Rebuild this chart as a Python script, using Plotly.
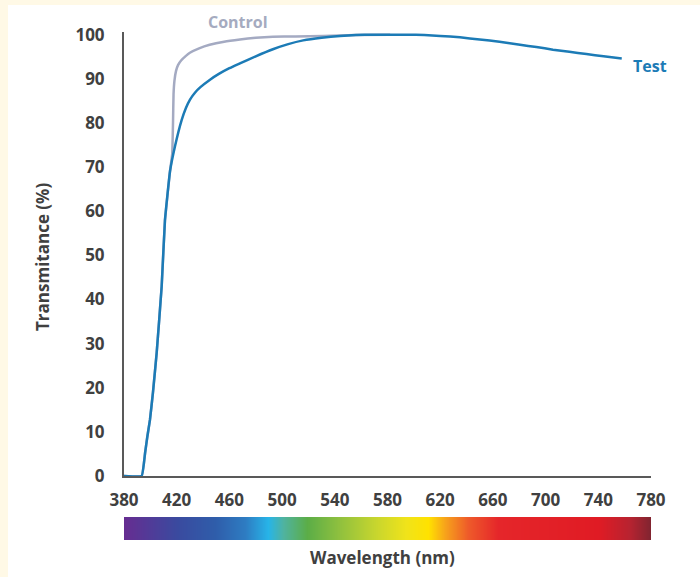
import plotly.graph_objects as go

# ---------------- data ----------------
test_nm = [380, 393.4, 396, 397.7, 399.7, 402, 404.8, 408.6, 411.1, 414.9, 418.7, 423.8,
           427, 430.1, 434, 438, 445.3, 452, 460, 468, 480, 493, 504, 516, 530, 544, 556,
           569, 582, 595, 608, 620, 635, 650, 665, 680.6, 693, 705.6, 718, 731, 744, 757.8]
test_val = [0, 0, 5.2, 8.9, 12.7, 19, 27.9, 43, 58, 69, 74.7, 80.7,
            83.4, 85.3, 86.9, 88.1, 89.8, 91.1, 92.4, 93.5, 95.1, 96.7, 97.8, 98.7, 99.3, 99.7,
            99.9, 100, 100, 100, 99.9, 99.7, 99.4, 98.9, 98.4, 97.7, 97.2, 96.6, 96.1, 95.6,
            95.1, 94.6]

control_nm = [380, 393.4, 396, 397.7, 399.7, 402, 404.8, 408.6, 411.1, 414.9, 416.6, 417.2,
              417.6, 418.3, 419.5, 421, 423.5, 427, 430, 437, 445, 456, 468, 480, 493, 510,
              531, 556, 582]
control_val = [0, 0, 5.2, 8.9, 12.7, 19, 27.9, 43, 58, 69, 73, 80,
               86.5, 89.6, 91.8, 93.1, 94.2, 95.2, 95.9, 96.9, 97.7, 98.4, 98.9, 99.3, 99.5,
               99.6, 99.7, 99.9, 100]

x_ticks = [380, 420, 460, 500, 540, 580, 620, 660, 700, 740, 780]
y_ticks = [0, 10, 20, 30, 40, 50, 60, 70, 80, 90, 100]

spectrum_nm = [380, 420, 449, 472, 489, 501, 519, 542, 571, 594, 611, 624, 641, 664, 740, 763, 780]
spectrum_col = ["#662D91", "#3A4A9F", "#2F5DAA", "#2E7CC2", "#27B4E8", "#4FB3A0", "#5BAD47",
                "#8CBF3F", "#C8D62E", "#F0E31A", "#FFE200", "#F7A21B", "#EE5A2A", "#E5262A",
                "#E01B24", "#B82330", "#7F2430"]

# ---------------- figure ----------------
W, H = 700, 577
L, R, T, B = 124, 49, 32, 37
pw, ph = W - L - R, H - T - B


def px_x(p):
    return (p - L) / pw


def px_y(p):
    return (H - B - p) / ph


lo, hi = spectrum_nm[0], spectrum_nm[-1]
colorscale = [[(w - lo) / (hi - lo), c] for w, c in zip(spectrum_nm, spectrum_col)]

fig = go.Figure()

fig.add_trace(go.Heatmap(
    x=spectrum_nm, y=[0, 1], z=[spectrum_nm, spectrum_nm],
    colorscale=colorscale, zmin=lo, zmax=hi, zsmooth="best",
    showscale=False, hoverinfo="skip", xaxis="x", yaxis="y2"))

fig.add_trace(go.Scatter(
    x=control_nm, y=control_val, mode="lines",
    line=dict(color="#A4AAC2", width=2.5, shape="spline", smoothing=0.3),
    showlegend=False, hoverinfo="skip"))

fig.add_trace(go.Scatter(
    x=test_nm, y=test_val, mode="lines",
    line=dict(color="#1C7BB6", width=2.5, shape="spline", smoothing=0.3),
    showlegend=False, hoverinfo="skip"))

font_family = "Open Sans"
tick_font = dict(family=font_family, size=17, color="#404040", weight="bold")

fig.update_layout(
    width=W, height=H,
    margin=dict(l=L, r=R, t=T, b=B, pad=0),
    paper_bgcolor="#FFF9E6",
    plot_bgcolor="white",
    showlegend=False,
    xaxis=dict(range=[380, 780], tickvals=x_ticks, ticktext=[str(v) for v in x_ticks],
               showgrid=False, zeroline=False, showline=True, linecolor="#595959",
               linewidth=2, ticks="", tickfont=tick_font, ticklabelstandoff=8,
               anchor="y"),
    yaxis=dict(range=[0, 100.6], domain=[px_y(476), 1], tickvals=y_ticks,
               ticktext=[str(v) for v in y_ticks],
               showgrid=False, zeroline=False, showline=True, linecolor="#595959",
               linewidth=2, ticks="", tickfont=tick_font, ticklabelstandoff=14,
               anchor="x"),
    yaxis2=dict(domain=[0, px_y(517)], range=[-0.5, 1.5], showgrid=False, zeroline=False,
                showline=False, showticklabels=False, ticks="", anchor="x"),
    shapes=[dict(type="rect", xref="paper", yref="paper", x0=px_x(8), x1=px_x(W + 5),
                 y0=px_y(H + 5), y1=px_y(5), fillcolor="white", line=dict(width=0),
                 layer="below")],
    annotations=[
        dict(text="Control", x=px_x(238), y=px_y(22), xref="paper", yref="paper",
             showarrow=False, xanchor="center", yanchor="middle",
             font=dict(family=font_family, size=16, color="#A5ABC0", weight="bold")),
        dict(text="Test", x=px_x(650), y=px_y(66), xref="paper", yref="paper",
             showarrow=False, xanchor="center", yanchor="middle",
             font=dict(family=font_family, size=16, color="#1C7BB6", weight="bold")),
        dict(text="Wavelength (nm)", x=px_x(382), y=px_y(557), xref="paper", yref="paper",
             showarrow=False, xanchor="center", yanchor="middle",
             font=dict(family=font_family, size=17, color="#404040", weight="bold")),
        dict(text="Transmitance (%)", x=px_x(42), y=px_y(257), xref="paper", yref="paper",
             showarrow=False, textangle=-90, xanchor="center", yanchor="middle",
             font=dict(family=font_family, size=17, color="#404040", weight="bold")),
    ],
)

fig.write_html("out.html")
